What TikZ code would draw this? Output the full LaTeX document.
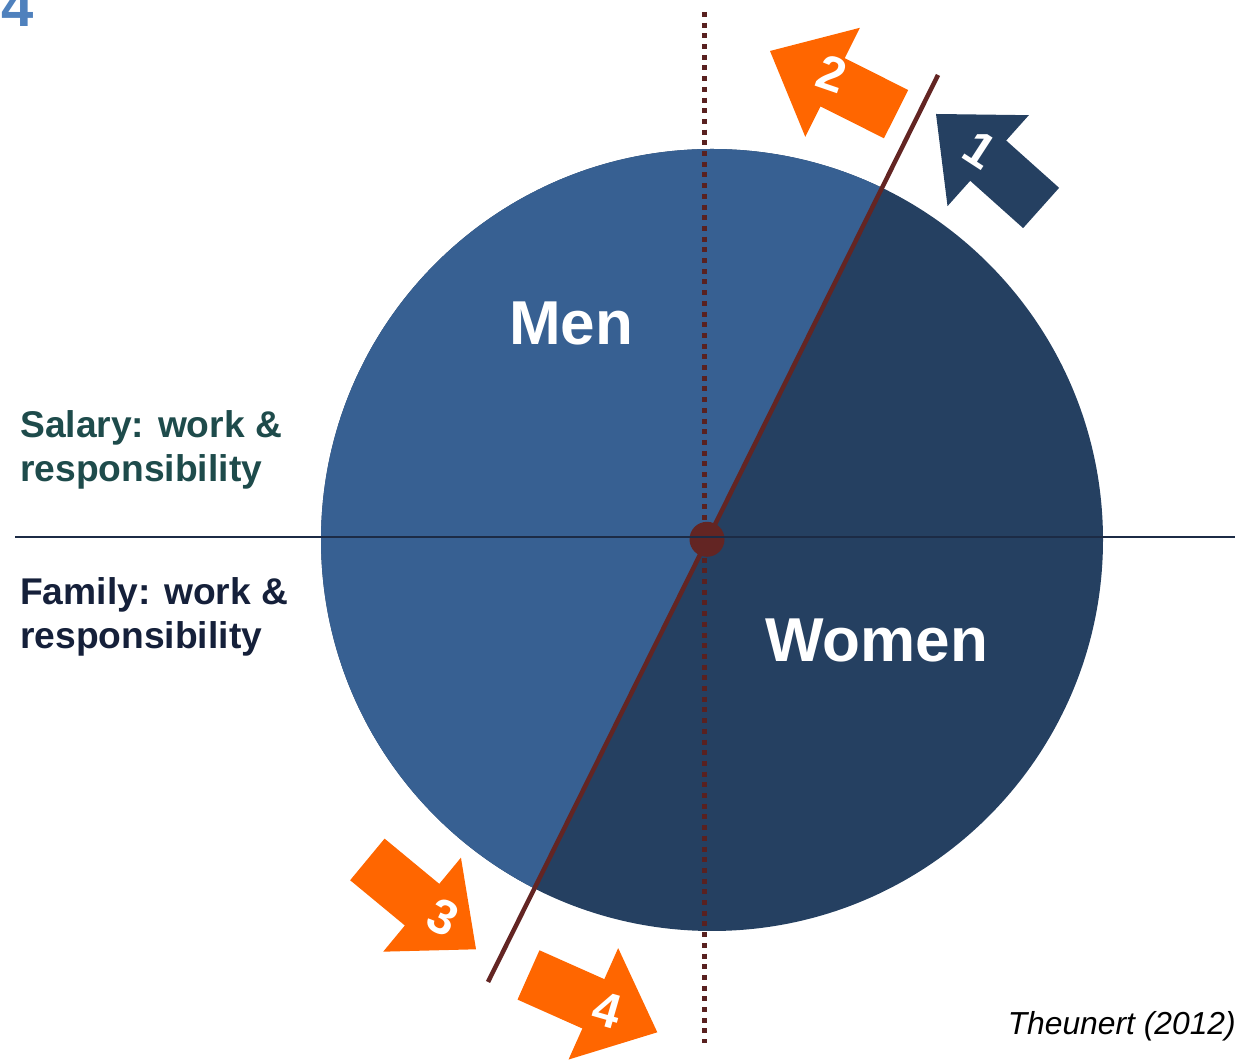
\documentclass[tikz,border=0pt]{standalone}
\usepackage{fontspec}
\setmainfont{Liberation Sans}
\definecolor{pielight}{HTML}{376092}
\definecolor{piedark}{HTML}{254061}
\definecolor{divred}{HTML}{632523}
\definecolor{arrorange}{HTML}{FF6600}
\definecolor{hlinecol}{HTML}{1C2B45}
\definecolor{salcol}{HTML}{1E4B4B}
\definecolor{famcol}{HTML}{15203A}
\definecolor{numblue}{HTML}{4F81BD}
\tikzset{
  blockarrow/.pic={\path[pic actions] (0,0) -- (-70,61) -- (-70,27) -- (-141,27) -- (-141,-27) -- (-70,-27) -- (-70,-61) -- cycle;},
  digit/.style={text=white, font=\bfseries\fontsize{49}{56}\selectfont, inner sep=0pt},
  sidelabel/.style={anchor=base west, inner sep=0pt, font=\bfseries\fontsize{37.2}{44}\selectfont},
  biglabel/.style={text=white, anchor=base, inner sep=0pt, font=\bfseries\fontsize{62}{74}\selectfont},
}
\begin{document}
\begin{tikzpicture}[x=1pt,y=1pt]
\useasboundingbox (0,0) rectangle (1235,1060);
% pie
\node[circle, fill=piedark, minimum size=782pt, inner sep=0pt] (pie) at (712,520) {};
\begin{scope}
  \clip (712,520) circle (391pt);
  \fill[pielight] (257,-387) -- (1157,1427) -- (-500,1427) -- (-500,-387) -- cycle;
\end{scope}
% lines
\coordinate (l1) at (938,985);
\coordinate (l2) at (488,78);
\coordinate (v1) at (704,1048);
\coordinate (v2) at (704,17);
\coordinate (h1) at (15,522.5);
\coordinate (h2) at (1235,522.5);
\draw[divred, line width=4.5pt] (l1) -- (l2);
\draw[divred!90!black, line width=5pt, dash pattern=on 5pt off 5.7pt] (v1) -- (v2);
\node[circle, fill=divred, minimum size=35pt, inner sep=0pt] (hub) at (707,520.7) {};
\draw[hlinecol, line width=2pt] (h1) -- (h2);
% arrows
\pic[fill=piedark, rotate=138.2] at (936,946) {blockarrow};
\pic[fill=arrorange, rotate=153.4] at (770,1009) {blockarrow};
\pic[fill=arrorange, rotate=-39.6] at (476,110.7) {blockarrow};
\pic[fill=arrorange, rotate=-24] at (657.3,27.7) {blockarrow};
\node[digit, rotate=-33] (n1) at (980,910) {1};
\node[digit, rotate=-19] (n2) at (832,986.7) {2};
\node[digit, rotate=-26] (n3) at (443,142.7) {3};
\node[digit, rotate=-16] (n4) at (607,50) {4};
% labels
\node[biglabel] (men) at (571,715) {Men};
\node[biglabel] (women) at (876.5,398) {Women};
\node[sidelabel, text=salcol] (sal1) at (20,622.3) {Salary: work \&};
\node[sidelabel, text=salcol] (sal2) at (20,578.3) {responsibility};
\node[sidelabel, text=famcol] (fam1) at (20,455) {Family: work \&};
\node[sidelabel, text=famcol] (fam2) at (20,411.7) {responsibility};
\node[anchor=base east, inner sep=0pt, font=\itshape\fontsize{31.8}{37}\selectfont] (src) at (1236,25) {Theunert (2012)};
\node[anchor=base west, inner sep=0pt, text=numblue, font=\bfseries\fontsize{58}{64}\selectfont] (slide) at (1,1033) {4};
\end{tikzpicture}
\end{document}
